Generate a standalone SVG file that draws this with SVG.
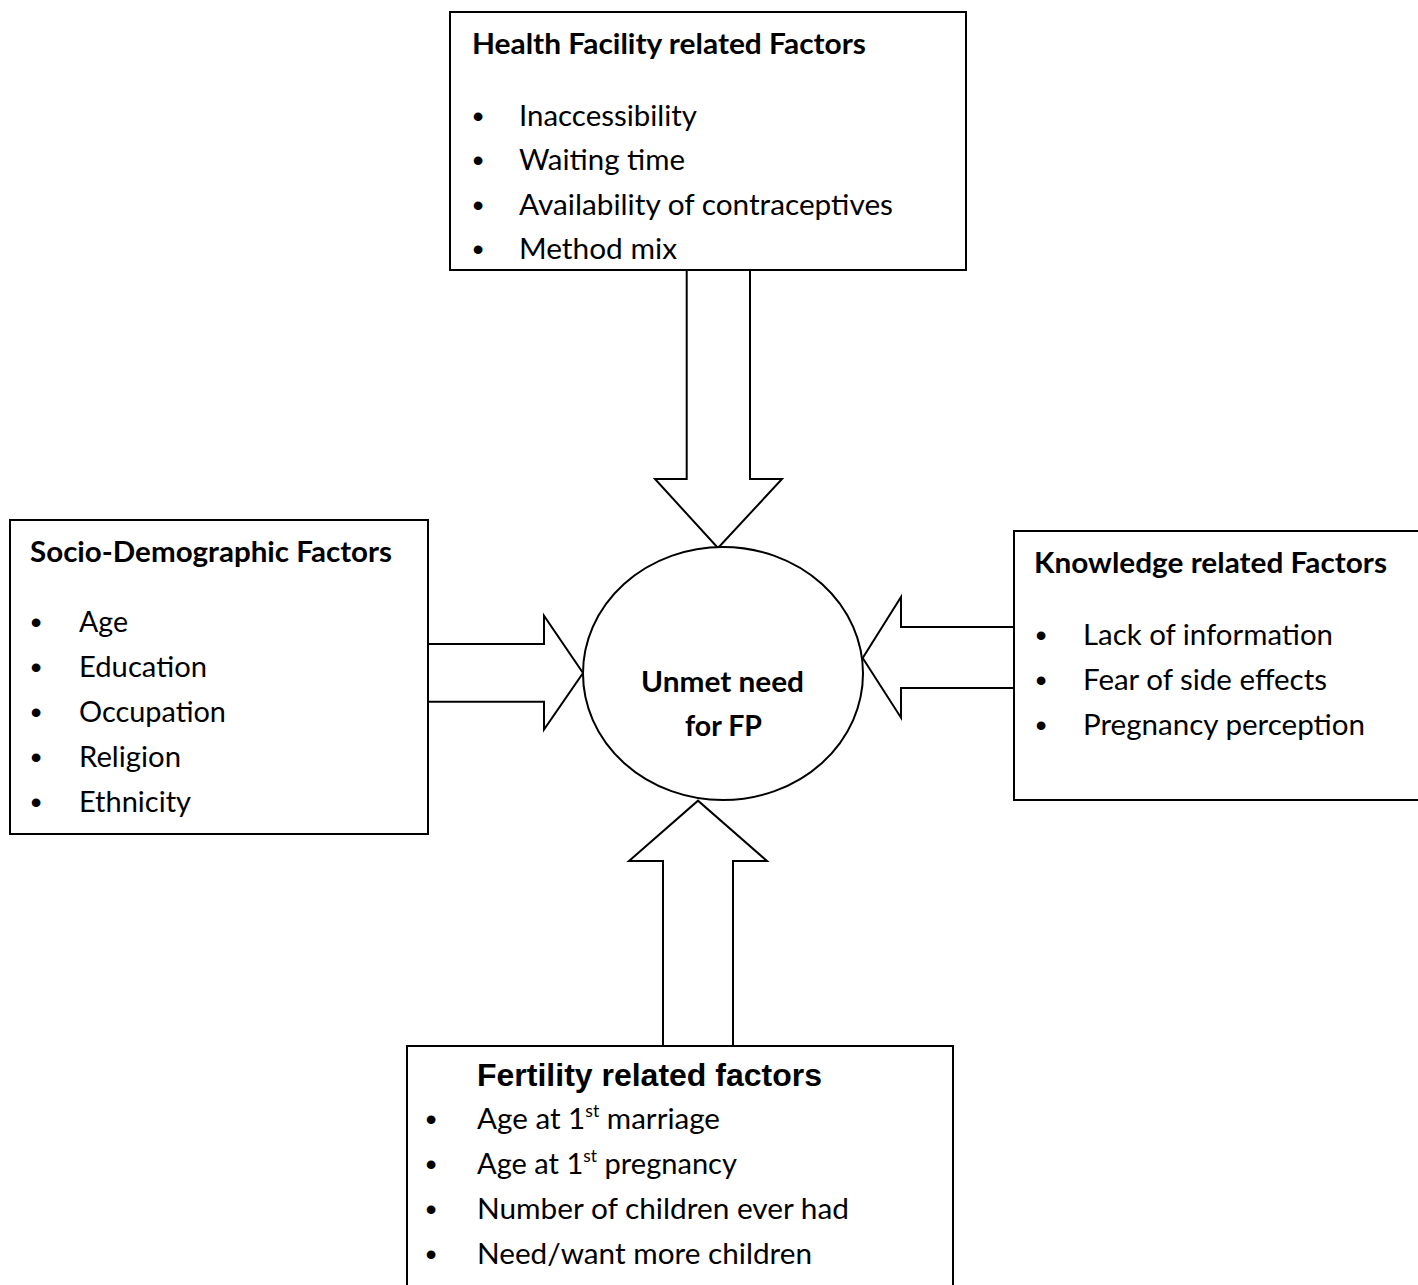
<svg xmlns="http://www.w3.org/2000/svg" width="1418" height="1285" viewBox="0 0 1418 1285">
<style>
.box{fill:#fff;stroke:#000;stroke-width:2}
.arr{fill:#fff;stroke:#000;stroke-width:2;stroke-linejoin:miter}
.t{font-family:Lato,"Open Sans",sans-serif;font-size:28.5px;fill:#000}
.h{font-family:Lato,"Open Sans",sans-serif;font-size:28.5px;font-weight:bold;fill:#000}
.a{font-family:"Liberation Sans",Arial,sans-serif;font-size:32px;font-weight:bold;fill:#000}
.bul{font-family:"Liberation Sans",Arial,sans-serif;font-size:32px;fill:#000;text-anchor:middle}
.sup{font-size:17px}
</style>
<rect width="1418" height="1285" fill="#fff"/>
<g id="connectors">
<polygon class="arr" points="686.7,270 686.7,479 655,479 718,548 782,479 750,479 750,270"/>
<polygon class="arr" points="428,644 544,644 544,615.7 583,673 544,729.5 544,701.7 428,701.7"/>
<polygon class="arr" points="1014,627 901,627 901,597 862.7,658 901,717.7 901,688 1014,688"/>
<polygon class="arr" points="663,1046 663,861 629,861 698,800.7 767,861 733,861 733,1046"/>
</g>
<g id="health-facility">
<rect class="box" x="450" y="12" width="516" height="258"/>
<text class="h" x="472" y="54" textLength="394" lengthAdjust="spacingAndGlyphs">Health Facility related Factors</text>
<text class="bul" x="478" y="127">•</text>
<text class="bul" x="478" y="171">•</text>
<text class="bul" x="478" y="216">•</text>
<text class="bul" x="478" y="260">•</text>
<text class="t" x="519" y="126" textLength="178" lengthAdjust="spacingAndGlyphs">Inaccessibility</text>
<text class="t" x="519" y="170" textLength="166" lengthAdjust="spacingAndGlyphs">Waiting time</text>
<text class="t" x="519" y="215" textLength="374" lengthAdjust="spacingAndGlyphs">Availability of contraceptives</text>
<text class="t" x="519" y="259" textLength="158" lengthAdjust="spacingAndGlyphs">Method mix</text>
</g>
<g id="socio-demographic">
<rect class="box" x="10" y="520" width="418" height="314"/>
<text class="h" x="30" y="562" textLength="362" lengthAdjust="spacingAndGlyphs">Socio-Demographic Factors</text>
<text class="bul" x="36" y="633">•</text>
<text class="bul" x="36" y="678">•</text>
<text class="bul" x="36" y="723">•</text>
<text class="bul" x="36" y="768">•</text>
<text class="bul" x="36" y="813">•</text>
<text class="t" x="79" y="632" textLength="49" lengthAdjust="spacingAndGlyphs">Age</text>
<text class="t" x="79" y="677" textLength="128" lengthAdjust="spacingAndGlyphs">Education</text>
<text class="t" x="79" y="722" textLength="147" lengthAdjust="spacingAndGlyphs">Occupation</text>
<text class="t" x="79" y="767" textLength="102" lengthAdjust="spacingAndGlyphs">Religion</text>
<text class="t" x="79" y="812" textLength="112" lengthAdjust="spacingAndGlyphs">Ethnicity</text>
</g>
<g id="knowledge">
<rect class="box" x="1014" y="531" width="420" height="269"/>
<text class="h" x="1034" y="573" textLength="353" lengthAdjust="spacingAndGlyphs">Knowledge related Factors</text>
<text class="bul" x="1041" y="646">•</text>
<text class="bul" x="1041" y="691">•</text>
<text class="bul" x="1041" y="736">•</text>
<text class="t" x="1083" y="645" textLength="250" lengthAdjust="spacingAndGlyphs">Lack of information</text>
<text class="t" x="1083" y="690" textLength="244" lengthAdjust="spacingAndGlyphs">Fear of side effects</text>
<text class="t" x="1083" y="735" textLength="282" lengthAdjust="spacingAndGlyphs">Pregnancy perception</text>
</g>
<g id="fertility">
<rect class="box" x="407" y="1046" width="546" height="260"/>
<text class="a" x="477" y="1086">Fertility related factors</text>
<text class="bul" x="431" y="1130">•</text>
<text class="bul" x="431" y="1175">•</text>
<text class="bul" x="431" y="1220">•</text>
<text class="bul" x="431" y="1265">•</text>
<text class="t" x="477" y="1129" textLength="243" lengthAdjust="spacingAndGlyphs">Age at 1<tspan class="sup" dy="-12">st</tspan><tspan dy="12"> marriage</tspan></text>
<text class="t" x="477" y="1174" textLength="260" lengthAdjust="spacingAndGlyphs">Age at 1<tspan class="sup" dy="-12">st</tspan><tspan dy="12"> pregnancy</tspan></text>
<text class="t" x="477" y="1219" textLength="372" lengthAdjust="spacingAndGlyphs">Number of children ever had</text>
<text class="t" x="477" y="1264" textLength="335" lengthAdjust="spacingAndGlyphs">Need/want more children</text>
</g>
<g id="unmet-need">
<ellipse class="box" cx="723" cy="673.5" rx="140" ry="126.5"/>
<text class="h" x="641" y="692" textLength="163" lengthAdjust="spacingAndGlyphs">Unmet need</text>
<text class="h" x="685" y="736" textLength="77" lengthAdjust="spacingAndGlyphs">for FP</text>
</g>
</svg>
